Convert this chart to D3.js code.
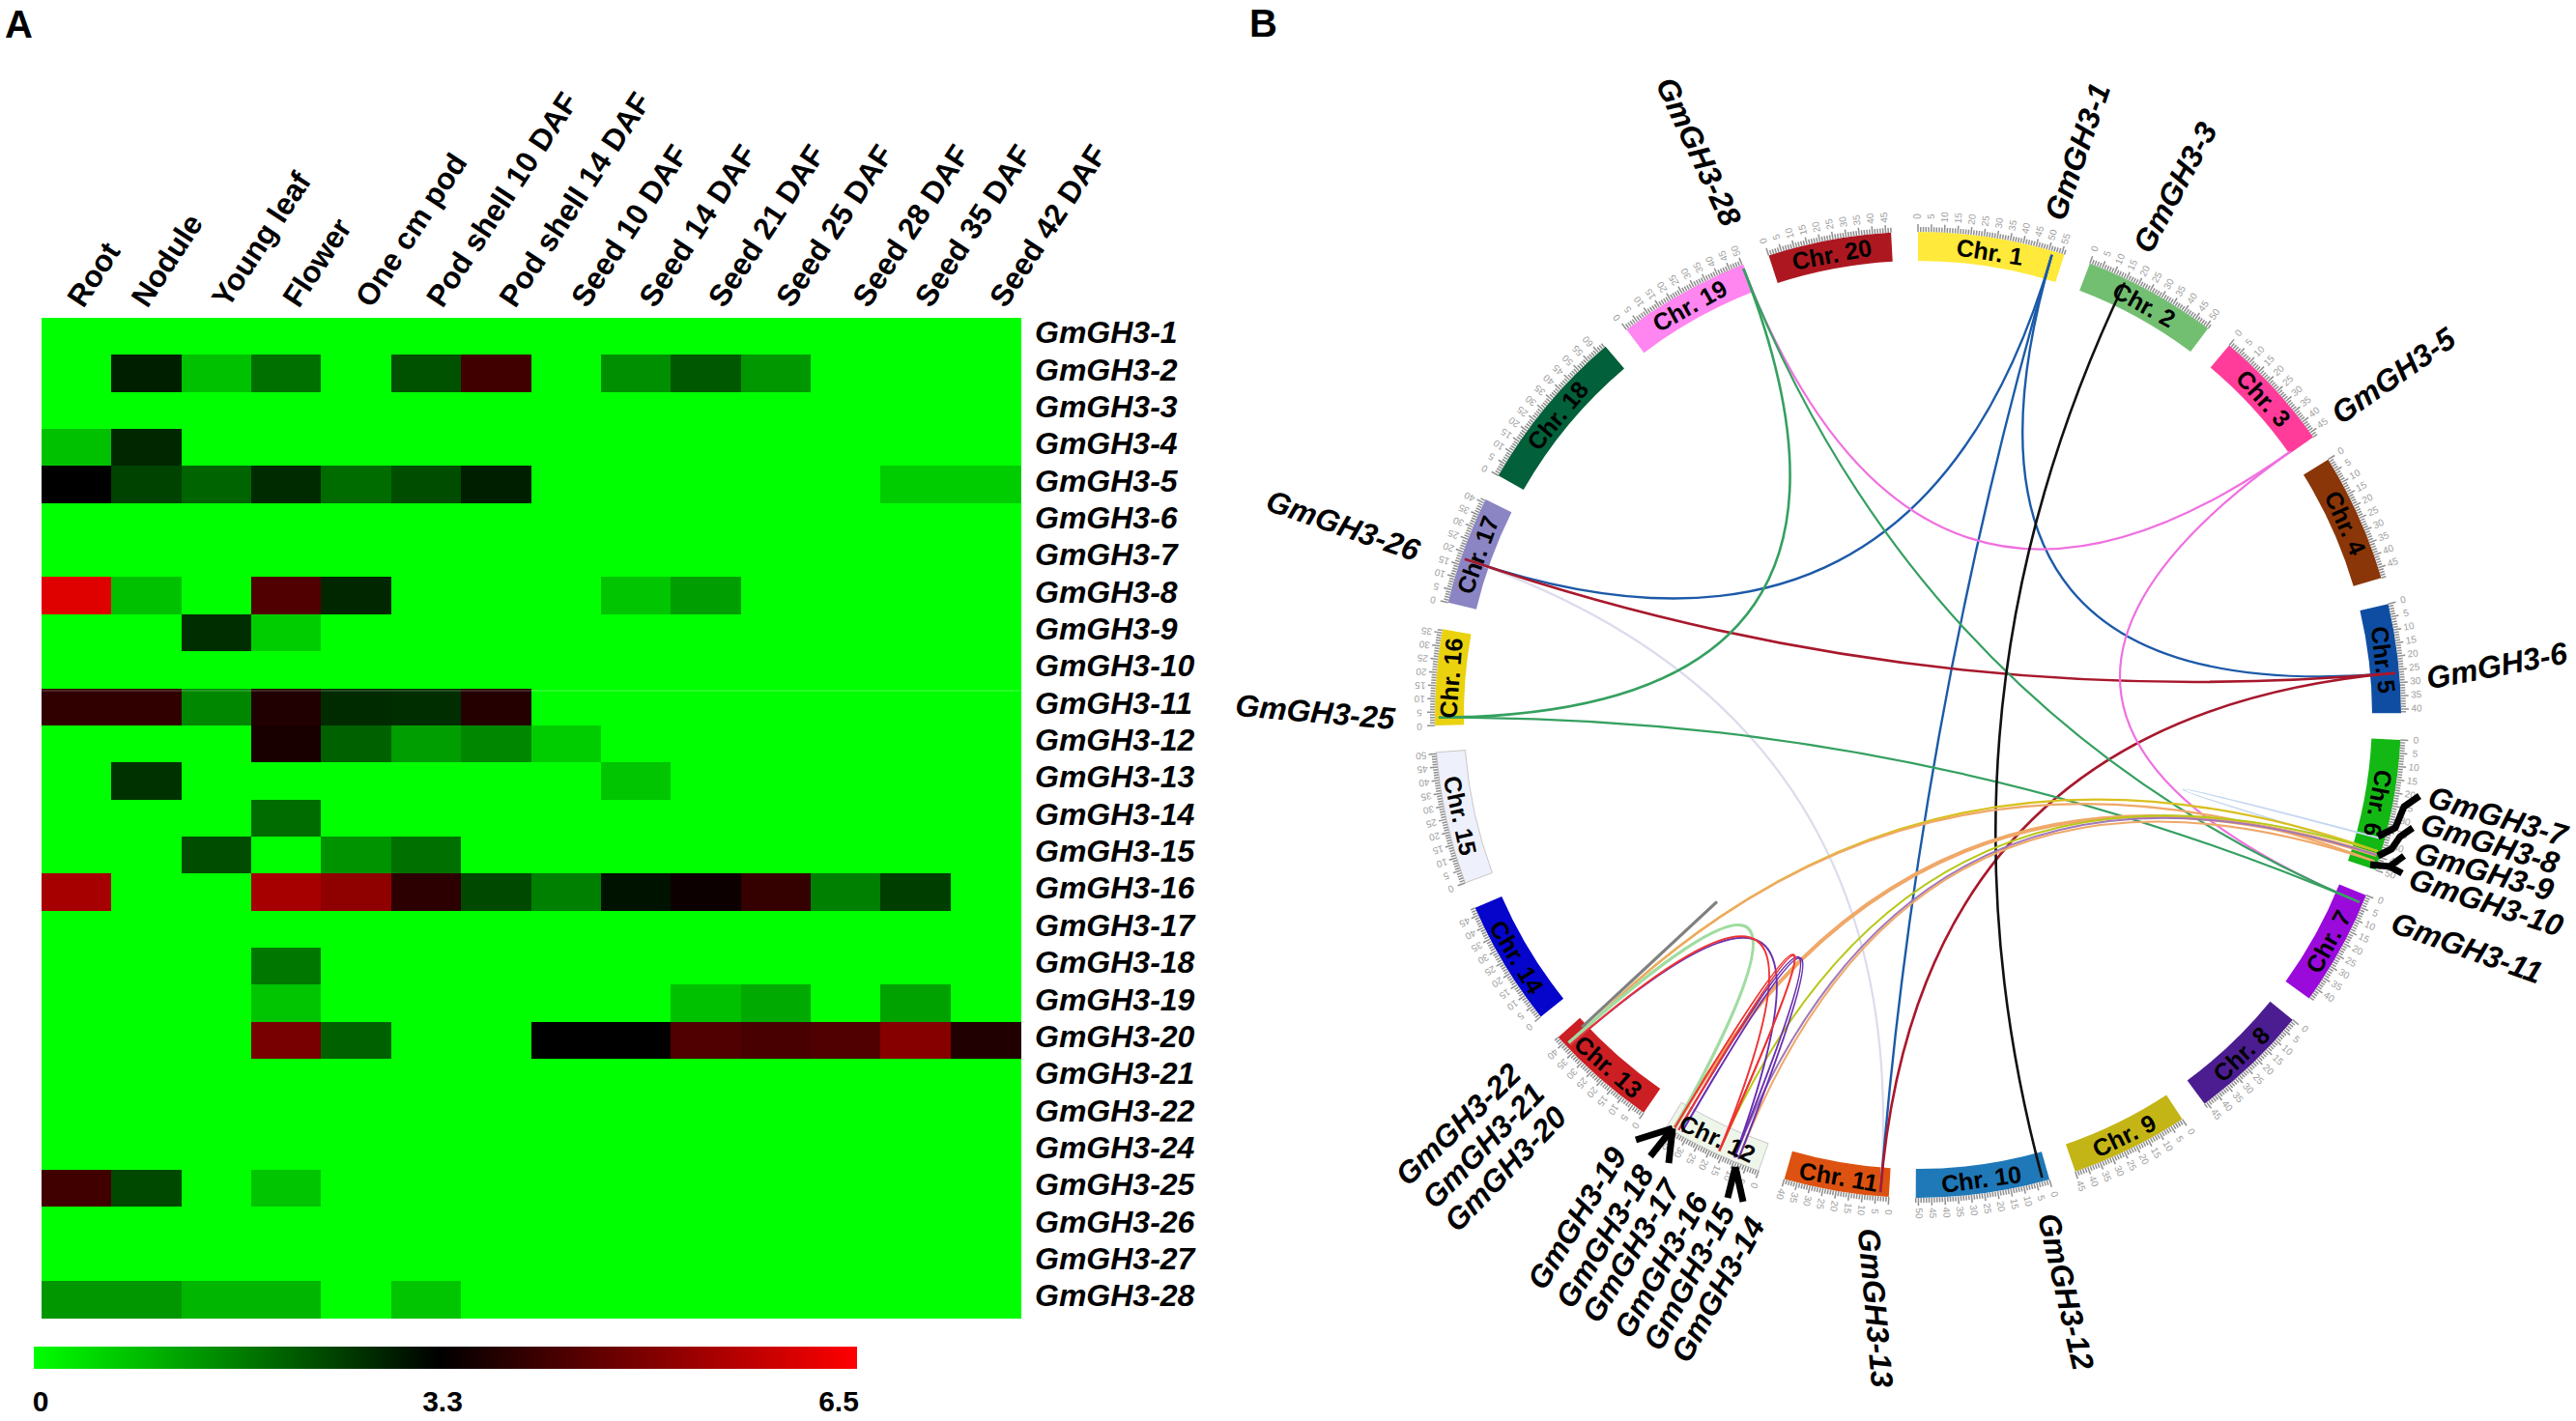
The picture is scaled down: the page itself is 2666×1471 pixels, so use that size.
<!DOCTYPE html>
<html><head><meta charset="utf-8">
<script src="https://cdn.jsdelivr.net/npm/d3@7/dist/d3.min.js"></script>
<style>html,body{margin:0;padding:0;background:#fff}svg{display:block}text{font-family:"Liberation Sans",Arial,sans-serif}</style>
</head><body><svg id="c" width="2666" height="1471" viewBox="0 0 2666 1471"></svg>
<script>
// ---------- Panel A data ----------
const tissues = ["Root","Nodule","Young leaf","Flower","One cm pod","Pod shell 10 DAF","Pod shell 14 DAF","Seed 10 DAF","Seed 14 DAF","Seed 21 DAF","Seed 25 DAF","Seed 28 DAF","Seed 35 DAF","Seed 42 DAF"];
const rowGenes = ["GmGH3-1","GmGH3-2","GmGH3-3","GmGH3-4","GmGH3-5","GmGH3-6","GmGH3-7","GmGH3-8","GmGH3-9","GmGH3-10","GmGH3-11","GmGH3-12","GmGH3-13","GmGH3-14","GmGH3-15","GmGH3-16","GmGH3-17","GmGH3-18","GmGH3-19","GmGH3-20","GmGH3-21","GmGH3-22","GmGH3-24","GmGH3-25","GmGH3-26","GmGH3-27","GmGH3-28"];
const expression = [
[0,0,0,0,0,0,0,0,0,0,0,0,0,0],
[0,2.9,0.8,1.85,0,2.25,4.1,0,1.45,2.15,1.35,0,0,0],
[0,0,0,0,0,0,0,0,0,0,0,0,0,0],
[0.8,2.8,0,0,0,0,0,0,0,0,0,0,0,0],
[3.3,2.45,2.0,2.75,1.9,2.3,2.9,0,0,0,0,0,0.65,0.65],
[0,0,0,0,0,0,0,0,0,0,0,0,0,0],
[0,0,0,0,0,0,0,0,0,0,0,0,0,0],
[6.1,0.8,0,4.3,2.8,0,0,0,0.75,1.25,0,0,0,0],
[0,0,2.7,0.65,0,0,0,0,0,0,0,0,0,0],
[0,0,0,0,0,0,0,0,0,0,0,0,0,0],
[3.9,3.9,1.55,3.7,2.75,2.7,3.75,0,0,0,0,0,0,0],
[0,0,0,3.6,2.05,1.25,1.55,0.65,0,0,0,0,0,0],
[0,2.65,0,0,0,0,0,0,0.75,0,0,0,0,0],
[0,0,0,1.9,0,0,0,0,0,0,0,0,0,0],
[0,0,2.3,0,1.4,1.85,0,0,0,0,0,0,0,0],
[5.4,0,0,5.4,5.1,3.85,2.35,1.65,3.05,3.45,3.95,1.65,2.5,0],
[0,0,0,0,0,0,0,0,0,0,0,0,0,0],
[0,0,0,1.75,0,0,0,0,0,0,0,0,0,0],
[0,0,0,0.75,0,0,0,0,0,0.8,1.1,0,1.2,0],
[0,0,0,4.8,2.05,0,0,3.3,3.3,4.3,4.2,4.3,5.0,3.7],
[0,0,0,0,0,0,0,0,0,0,0,0,0,0],
[0,0,0,0,0,0,0,0,0,0,0,0,0,0],
[0,0,0,0,0,0,0,0,0,0,0,0,0,0],
[4.1,2.35,0,0.75,0,0,0,0,0,0,0,0,0,0],
[0,0,0,0,0,0,0,0,0,0,0,0,0,0],
[0,0,0,0,0,0,0,0,0,0,0,0,0,0],
[1.35,1.35,0.95,0.95,0,0.75,0,0,0,0,0,0,0,0]
];
const legendValues = [0,3.3,6.5];
const legendColors = ["#00ff00","#000000","#ff0000"];

// ---------- Panel B data ----------
const chrNames = d3.range(1,21).map(i=>"Chr. "+i);
const chrLengths = [56,51,47,49,41.5,50,44.5,46,45,51,40,38.5,43,48,50.5,36.5,41.5,63.5,50.5,47];
const chrColors = ["#ffe93a","#72bf72","#ff3c9a","#8b3608","#0f4da3","#14b814","#9a0adb","#4c1d91","#c4b516","#1f78b8","#dd5210","#eef6ea","#cc1f24","#0505cc","#eef0fb","#ead20f","#8b85c4","#02603a","#ff85f0","#ad1820"];
const geneChr = {"GmGH3-1":1,"GmGH3-3":2,"GmGH3-5":3,"GmGH3-6":5,"GmGH3-7":6,"GmGH3-8":6,"GmGH3-9":6,"GmGH3-10":6,"GmGH3-11":7,"GmGH3-12":10,"GmGH3-13":11,"GmGH3-14":12,"GmGH3-15":12,"GmGH3-16":12,"GmGH3-17":12,"GmGH3-18":12,"GmGH3-19":12,"GmGH3-20":13,"GmGH3-21":13,"GmGH3-22":13,"GmGH3-25":16,"GmGH3-26":17,"GmGH3-28":19};
const geneMb  = {"GmGH3-1":51.5,"GmGH3-3":15,"GmGH3-5":46.5,"GmGH3-6":26.3,"GmGH3-7":38,"GmGH3-8":43,"GmGH3-9":44.5,"GmGH3-10":47,"GmGH3-11":3.4,"GmGH3-12":2.5,"GmGH3-13":3.3,"GmGH3-14":8.7,"GmGH3-15":10.3,"GmGH3-16":16.6,"GmGH3-17":32.5,"GmGH3-18":34,"GmGH3-19":35.7,"GmGH3-20":37.8,"GmGH3-21":38.8,"GmGH3-22":39.7,"GmGH3-25":3,"GmGH3-26":17.6,"GmGH3-28":50};
const linkPairs = [
["GmGH3-26","GmGH3-13"],["GmGH3-1","GmGH3-26"],["GmGH3-1","GmGH3-13"],["GmGH3-1","GmGH3-6"],
["GmGH3-6","GmGH3-26"],["GmGH3-6","GmGH3-13"],["GmGH3-5","GmGH3-28"],["GmGH3-5","GmGH3-11"],
["GmGH3-28","GmGH3-25"],["GmGH3-28","GmGH3-11"],["GmGH3-25","GmGH3-11"],["GmGH3-3","GmGH3-12"],
["GmGH3-7","GmGH3-8"],["GmGH3-8","GmGH3-20"],["GmGH3-10","GmGH3-20"],["GmGH3-9","GmGH3-19"],
["GmGH3-8","GmGH3-16"],["GmGH3-9","GmGH3-15"],["GmGH3-10","GmGH3-14"],["GmGH3-21","GmGH3-19"],
["GmGH3-20","GmGH3-15"],["GmGH3-20","GmGH3-16"],["GmGH3-18","GmGH3-15"],["GmGH3-17","GmGH3-14"],
["GmGH3-19","GmGH3-16"],["GmGH3-18","GmGH3-16"]];
const linkColors = ["#dcdcec","#1c5aa8","#1c5aa8","#1c5aa8","#a8182c","#a8182c","#f070e0","#f070e0","#35a060","#35a060","#35a060","#111111","#c5d8f0","#d9c020","#f0a868","#f0a868","#b8c818","#a078b8","#f0a868","#a0dca0","#6a30b0","#ee3333","#6a30b0","#6a30b0","#ee3333","#ee3333"];
const linkWidths = [2.2,2.4,2.4,2.4,2.6,2.6,2.2,2.2,2.6,2.2,2.2,2.6,2,2.4,2.2,4,2,2,2,3.4,2,2,2,2,2,2];
const linkBends = [0,0,0,0,0,0,0,0,0,0,0,0,0.15,-0.12,-0.12,-0.03,-0.03,-0.03,-0.03,0.15,0.18,0.18,0.13,0.13,0.13,0.13];
// gene label: [text, centre x, centre y, rotation]
const geneLabels = [
["GmGH3-1",2150,157,-71],["GmGH3-3",2251,194,-61.7],["GmGH3-5",2477,389,-34.8],["GmGH3-6",2584,689,-10.7],
["GmGH3-7",2585,845,16.5],["GmGH3-8",2577,873,17],["GmGH3-9",2571,902,16],["GmGH3-10",2573,934,18],["GmGH3-11",2553,981,19.5],
["GmGH3-12",2138,1337,77],["GmGH3-13",1941,1354,85],["GmGH3-14",1778,1335,-61],["GmGH3-15",1748,1322,-62],["GmGH3-16",1719,1310,-60.7],
["GmGH3-17",1688,1295,-59],["GmGH3-18",1661,1280,-59],["GmGH3-19",1632,1261,-58.5],["GmGH3-20",1558,1210,-46],["GmGH3-21",1535,1186,-46],["GmGH3-22",1509,1164,-44],
["GmGH3-25",1361,737,5],["GmGH3-26",1390,544,19],["GmGH3-28",1758,157,65]];
const leaders = [
[[2504,824],[2488,835],[2479,857],[2461,866]],
[[2497,857],[2484,866],[2475,879],[2461,886]],
[[2453,895],[2473,897],[2488,886]],[[2473,897],[2486,904]],
[[1731,1168],[1693,1180]],[[1731,1168],[1708,1197]],[[1731,1168],[1727,1204]],
[[1796,1208],[1788,1240]],[[1796,1208],[1804,1244]]];

// ---------- Layout ----------
const svg = d3.select("#c");
svg.append("rect").attr("width",2666).attr("height",1471).attr("fill","#fff");
svg.append("text").text("A").attr("x",5).attr("y",39).attr("font-size",40).attr("font-weight","bold");
svg.append("text").text("B").attr("x",1293).attr("y",38).attr("font-size",40).attr("font-weight","bold");

// Panel A
const x = d3.scaleBand().domain(tissues).range([43,1056]);
const y = d3.scaleBand().domain(rowGenes).range([329,1364.5]);
const colour = d3.scaleLinear().domain(legendValues).range(legendColors);
const cellsG = svg.append("g").attr("shape-rendering","crispEdges");
rowGenes.forEach((g,r)=>{
  cellsG.selectAll(null).data(expression[r]).enter().append("rect")
    .attr("x",(d,i)=>x(tissues[i])).attr("y",y(g))
    .attr("width",x.bandwidth()+0.6).attr("height",y.bandwidth()+0.6)
    .attr("fill",d=>colour(d));
});
svg.append("line").attr("x1",43).attr("x2",1056).attr("y1",715).attr("y2",715).attr("stroke","#fff").attr("stroke-opacity",0.2).attr("stroke-width",1.5);
const colNudge = [-8,-14,-3,-2,1,2,5,7,5,4,2,9,1,6];
svg.append("g").selectAll("text").data(tissues).enter().append("text")
  .text(d=>d).attr("font-size",31.5).attr("font-weight","bold")
  .attr("transform",(d,i)=>`translate(${x(d)+x.bandwidth()/2+colNudge[i]+15},${320}) rotate(-56.7)`);
svg.append("g").selectAll("text").data(rowGenes).enter().append("text")
  .text(d=>d).attr("font-size",32).attr("font-weight","bold").attr("font-style","italic")
  .attr("x",1071).attr("y",d=>y(d)+y.bandwidth()/2+7);

// Legend
const defs = svg.append("defs");
const grad = defs.append("linearGradient").attr("id","lg");
const stopX = [0,49.3,100];
legendValues.forEach((v,i)=>grad.append("stop").attr("offset",stopX[i]+"%").attr("stop-color",colour(v)));
svg.append("rect").attr("x",35).attr("y",1394).attr("width",852).attr("height",23).attr("fill","url(#lg)");
const legendX = d3.scaleLinear().domain(legendValues).range([42,458,868]);
svg.append("g").selectAll("text").data(legendValues).enter().append("text")
  .text(d=>d).attr("font-size",30).attr("font-weight","bold").attr("text-anchor","middle")
  .attr("x",d=>legendX(d)).attr("y",1461);

// Panel B
const C = [1985,740], R0 = 470, R1 = 500;
const padDeg = 3.2;
const pie = d3.pie().sort(null).startAngle(0).endAngle(2*Math.PI).padAngle(padDeg*Math.PI/180);
const arcs = pie(chrLengths);
const chrEnd = a => a.endAngle - a.padAngle;
const chrScale = arcs.map((a,i)=>d3.scaleLinear().domain([0,chrLengths[i]]).range([a.startAngle,chrEnd(a)]));
const polar = (ang,r)=>[C[0]+r*Math.sin(ang),C[1]-r*Math.cos(ang)];
const arcGen = d3.arc().innerRadius(R0).outerRadius(R1);
const g = svg.append("g").attr("transform",`translate(${C[0]},${C[1]})`);
g.selectAll("path.band").data(arcs).enter().append("path").attr("class","band")
  .attr("d",a=>arcGen({startAngle:a.startAngle,endAngle:chrEnd(a)}))
  .attr("fill",(a,i)=>chrColors[i]).attr("stroke",(a,i)=>i===11||i===14?"#c8c8c8":"none").attr("stroke-width",1);

// ticks
arcs.forEach((a,i)=>{
  const minor = d3.range(0,chrLengths[i]+0.01,1);
  const major = d3.range(0,chrLengths[i]+0.01,5);
  const s = chrScale[i];
  const t = svg.append("g");
  t.selectAll("line").data(minor).enter().append("line")
    .each(function(d){const p=polar(s(d),R1),q=polar(s(d),R1+(d%5===0?8:5));
      d3.select(this).attr("x1",p[0]).attr("y1",p[1]).attr("x2",q[0]).attr("y2",q[1]);})
    .attr("stroke","#8f8f8f").attr("stroke-width",1.5);
  t.selectAll("text").data(major).enter().append("text").text(d=>d)
    .attr("font-size",10).attr("fill","#a0a0a0").attr("text-anchor","middle").attr("dominant-baseline","middle")
    .attr("transform",d=>{const p=polar(s(d),R1+16);return `translate(${p[0]},${p[1]}) rotate(${s(d)*180/Math.PI-90})`;});
});

// links
const innerEnded = new Set(["GmGH3-5"]);
const genePoint = g0 => polar(chrScale[geneChr[g0]-1](geneMb[g0]), innerEnded.has(g0)?R0+2:R1-4);
const lg = svg.append("g").attr("fill","none");
linkPairs.forEach((p,i)=>{
  const A = genePoint(p[0]), B = genePoint(p[1]);
  const mx=(A[0]+B[0])/2,my=(A[1]+B[1])/2,b=linkBends[i];
  const path=d3.path();
  path.moveTo(A[0],A[1]);
  path.quadraticCurveTo(C[0]+b*(mx-C[0]),C[1]+b*(my-C[1]),B[0],B[1]);
  lg.append("path").attr("d",path.toString()).attr("stroke",linkColors[i]).attr("stroke-width",linkWidths[i]);
});
// radial grey stub of GmGH3-22
const a22 = chrScale[geneChr["GmGH3-22"]-1](geneMb["GmGH3-22"]);
const s0 = polar(a22,R0+5), s1 = polar(a22,284);
lg.append("line").attr("x1",s0[0]).attr("y1",s0[1]).attr("x2",s1[0]).attr("y2",s1[1]).attr("stroke","#808080").attr("stroke-width",3.2);

// band labels
svg.append("g").selectAll("text").data(arcs).enter().append("text")
  .text((a,i)=>chrNames[i]).attr("font-size",25).attr("font-weight","bold").attr("text-anchor","middle").attr("dominant-baseline","central")
  .attr("fill","#000")
  .attr("transform",a=>{const m=(a.startAngle+chrEnd(a))/2,deg=m*180/Math.PI,p=polar(m,(R0+R1)/2);
    const rot = deg<105?deg:deg<258?deg-180:deg-360;
    return `translate(${p[0]},${p[1]}) rotate(${rot})`;});

// gene labels & leaders
svg.append("g").selectAll("text").data(geneLabels).enter().append("text")
  .text(d=>d[0]).attr("font-size",32).attr("font-weight","bold").attr("font-style","italic")
  .attr("text-anchor","middle").attr("dominant-baseline","central")
  .attr("transform",d=>`translate(${d[1]},${d[2]}) rotate(${d[3]})`);
const line = d3.line().curve(d3.curveLinear);
svg.append("g").selectAll("path").data(leaders).enter().append("path")
  .attr("d",line).attr("fill","none").attr("stroke","#000").attr("stroke-width",7);
</script></body></html>
